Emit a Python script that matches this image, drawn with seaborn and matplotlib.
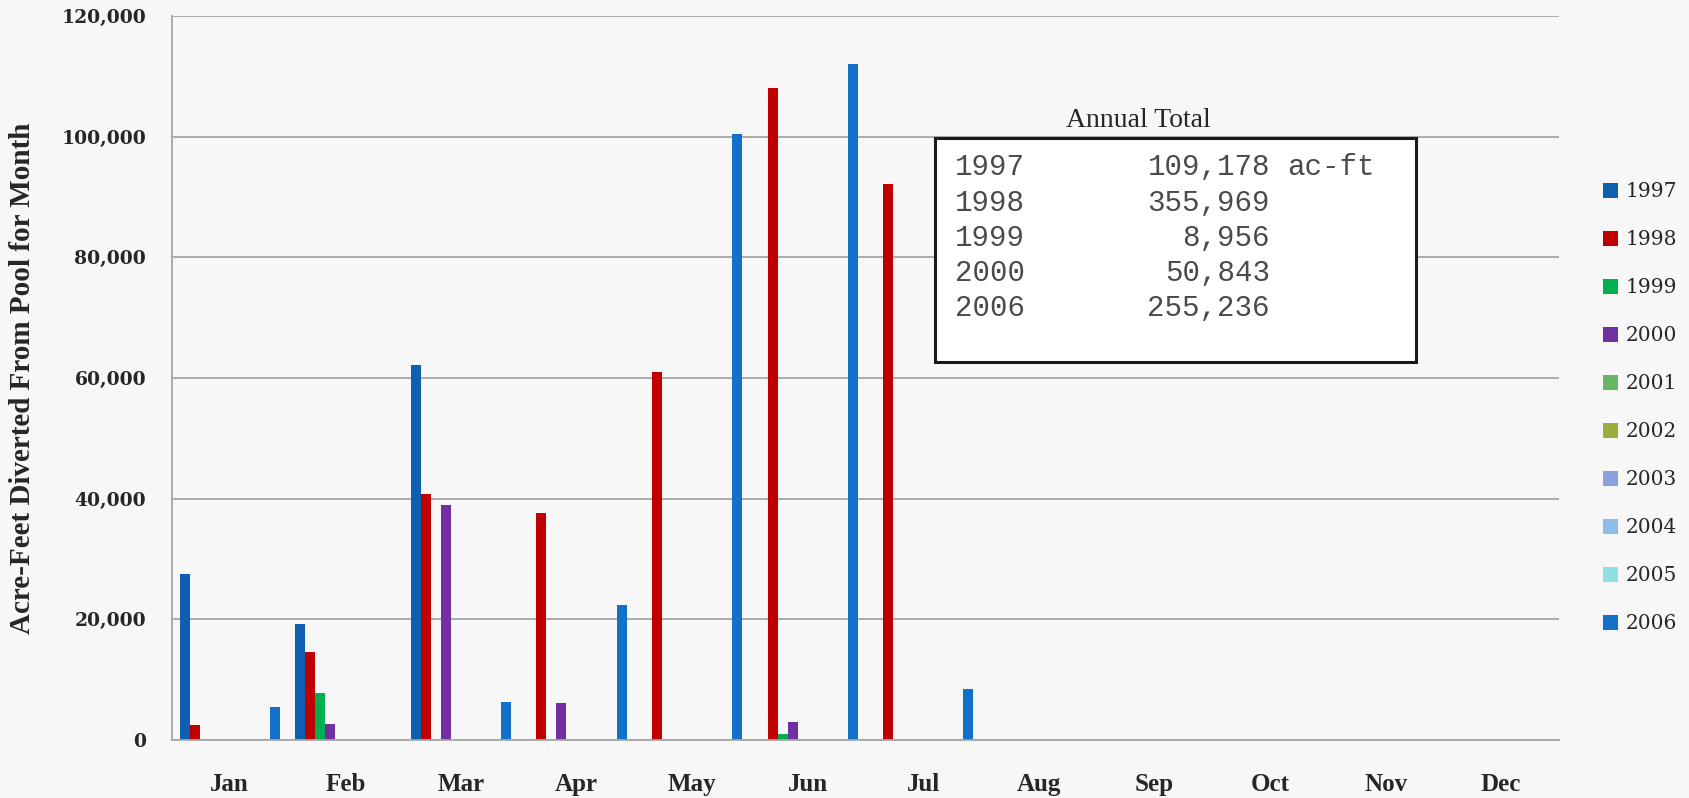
import matplotlib
matplotlib.use("Agg")
import matplotlib.pyplot as plt
import seaborn as sns
import pandas as pd
from matplotlib.patches import Rectangle
from matplotlib.ticker import FuncFormatter, FixedLocator

months = ["Jan", "Feb", "Mar", "Apr", "May", "Jun",
          "Jul", "Aug", "Sep", "Oct", "Nov", "Dec"]
years = ["1997", "1998", "1999", "2000", "2001",
         "2002", "2003", "2004", "2005", "2006"]

# monthly diversions (ac-ft)
v1997 = [27500, 19300, 62200, 0, 0, 0, 0, 0, 0, 0, 0, 0]
v1998 = [2500, 14500, 40800, 37600, 61000, 108000, 92100, 0, 0, 0, 0, 0]
v1999 = [0, 7800, 0, 0, 0, 1000, 0, 0, 0, 0, 0, 0]
v2000 = [0, 2600, 39000, 6100, 0, 2900, 0, 0, 0, 0, 0, 0]
v2001 = [0] * 12
v2002 = [0] * 12
v2003 = [0] * 12
v2004 = [0] * 12
v2005 = [0] * 12
v2006 = [5400, 0, 6300, 22400, 100500, 112100, 8400, 0, 0, 0, 0, 0]

colors = ["#0f5fb0", "#c00000", "#00b050", "#7030a0", "#66b866",
          "#9aae3c", "#8aa3dc", "#8cbde8", "#8ee0e2", "#1270c8"]

totals_years = ["1997", "1998", "1999", "2000", "2006"]
totals_vals = ["109,178", "355,969", "8,956", "50,843", "255,236"]

series = [v1997, v1998, v1999, v2000, v2001, v2002, v2003, v2004, v2005, v2006]
df = pd.DataFrame({
    "month": months * len(years),
    "year": [y for y in years for _ in months],
    "value": [v for s in series for v in s],
})

sns.set_style("white")
bg = "#f7f7f7"
fig = plt.figure(figsize=(16.89, 7.98), dpi=100, facecolor=bg)
ax = fig.add_axes([0.1018, 0.0727, 0.8212, 0.9073])
ax.set_facecolor(bg)

sns.barplot(data=df, x="month", y="value", hue="year", order=months,
            hue_order=years, palette=colors, width=0.866, dodge=True,
            saturation=1, linewidth=0, ax=ax)

serif = ["Liberation Serif", "DejaVu Serif"]
grey = "#a6a6a6"

ax.set_ylim(0, 120000)
ax.set_xlim(-0.5, 11.5)
ax.set_yticks(range(0, 120001, 20000))
ax.yaxis.set_major_formatter(FuncFormatter(lambda v, p: f"{int(v):,}"))
ax.yaxis.grid(True, color=grey, linewidth=1.3)
ax.set_axisbelow(True)
for lab in ax.get_yticklabels():
    lab.set_fontfamily(["DejaVu Serif"])
    lab.set_fontsize(13.5)
    lab.set_fontweight("bold")
    lab.set_color("#262626")
ax.tick_params(axis="y", length=6.5, color=grey, width=1.3, pad=12)

ax.set_xticks(range(12))
ax.set_xticklabels(months, fontfamily=serif, fontsize=18,
                   fontweight="bold", color="#262626")
ax.tick_params(axis="x", which="major", length=0, pad=24)
ax.xaxis.set_minor_locator(FixedLocator([i - 0.5 for i in range(13)]))
ax.tick_params(axis="x", which="minor", length=6, color=grey, width=1.3)

for side in ["top", "right"]:
    ax.spines[side].set_visible(False)
for side in ["left", "bottom"]:
    ax.spines[side].set_color(grey)
    ax.spines[side].set_linewidth(1.3)

ax.set_xlabel("")
ax.set_ylabel("Acre-Feet Diverted From Pool for Month", fontfamily=serif,
              fontsize=21, fontweight="bold", color="#262626")
ax.yaxis.set_label_coords(-0.098, 0.5)

ax.legend(loc="upper left", bbox_to_anchor=(1.032, 0.770), frameon=False,
          borderpad=0, borderaxespad=0,
          handlelength=0.75, handleheight=0.75, handletextpad=0.35,
          labelspacing=1.44, prop={"family": ["DejaVu Serif"], "size": 14.5})

# annual total box
ax.text(0.697, 0.847, "Annual Total", transform=ax.transAxes,
        fontfamily=serif, fontsize=20, color="#262626",
        ha="center", va="baseline")
ax.add_patch(Rectangle((0.550, 0.522), 0.347, 0.3095, transform=ax.transAxes,
                       facecolor="white", edgecolor="#1a1a1a", linewidth=2.2,
                       zorder=5))
mono = ["Liberation Mono", "DejaVu Sans Mono"]
row_y = [0.792, 0.742, 0.694, 0.645, 0.597]
for i, (yr, tv) in enumerate(zip(totals_years, totals_vals)):
    ax.text(0.5645, row_y[i], yr, transform=ax.transAxes, fontfamily=mono,
            fontsize=21, color="#4a4a4a", ha="left", va="center", zorder=6)
    ax.text(0.7916, row_y[i], tv, transform=ax.transAxes, fontfamily=mono,
            fontsize=21, color="#4a4a4a", ha="right", va="center", zorder=6)
ax.text(0.804, row_y[0], "ac-ft", transform=ax.transAxes, fontfamily=mono,
        fontsize=21, color="#4a4a4a", ha="left", va="center", zorder=6)

fig.savefig("out.png", dpi=100, facecolor=bg)
